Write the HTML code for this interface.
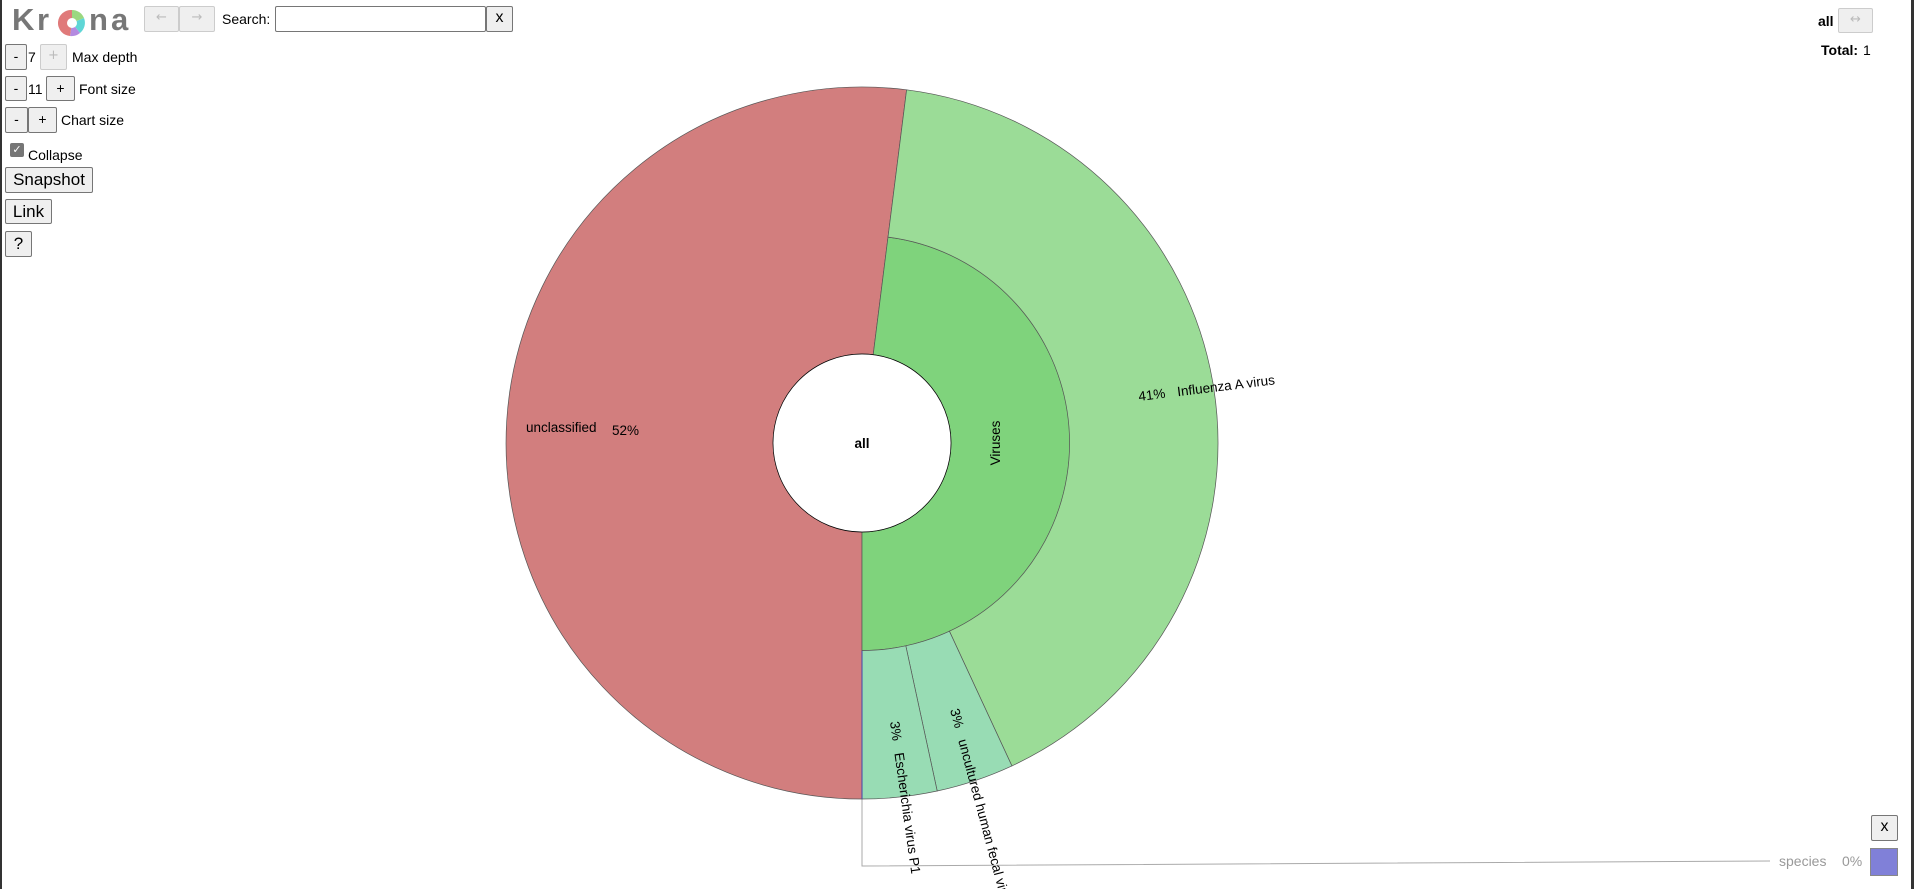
<!DOCTYPE html>
<html><head><meta charset="utf-8"><style>
body{margin:0;width:1914px;height:889px;overflow:hidden;background:#fff;font-family:"Liberation Sans",sans-serif;font-size:14px;color:#000;position:relative}
.a{position:absolute;white-space:nowrap}
.b{position:absolute;background:#efefef;border:1px solid #767676;border-radius:2px;box-sizing:border-box;text-align:center;font-size:14px;line-height:22px}
.d{color:#bbb;border-color:#ccc;font-family:"DejaVu Sans",sans-serif;font-size:13px}
.l{position:absolute;top:2px;font-size:31px;font-weight:bold;color:#777}
</style></head><body>
<div class="l" style="left:12px">K</div>
<div class="l" style="left:37px">r</div>
<div class="l" style="left:89px">n</div>
<div class="l" style="left:111px">a</div>
<svg class="a" style="left:58px;top:9px" width="28" height="28" viewBox="-14 -14 28 28">
<path d="M0 0 L0 -13 A13 13 0 0 1 12 -5Z" fill="#9bd880"/><path d="M0 0 L12 -5 A13 13 0 0 1 8 10Z" fill="#5fd6d6"/><path d="M0 0 L8 10 A13 13 0 0 1 -2 13Z" fill="#b48ae0"/><path d="M0 0 L-2 13 A13 13 0 0 1 0 -13Z" fill="#e07a7a"/><circle r="5" fill="#fff"/></svg>
<div class="b d" style="left:144px;top:6px;width:35px;height:26px">←</div>
<div class="b d" style="left:179px;top:6px;width:36px;height:26px">→</div>
<div class="a" style="left:222px;top:11px">Search:</div>
<div class="a" style="left:275px;top:6px;width:211px;height:26px;border:1px solid #767676;box-sizing:border-box;border-radius:2px"></div>
<div class="b" style="left:486px;top:6px;width:27px;height:26px;font-size:16px">x</div>
<div class="b" style="left:5px;top:44px;width:22px;height:26px">-</div><div class="a" style="left:28px;top:49px">7</div>
<div class="b d" style="left:40px;top:44px;width:27px;height:26px">+</div><div class="a" style="left:72px;top:49px">Max depth</div>
<div class="b" style="left:5px;top:76px;width:22px;height:25px">-</div><div class="a" style="left:28px;top:81px">11</div>
<div class="b" style="left:46px;top:76px;width:29px;height:25px">+</div><div class="a" style="left:79px;top:81px">Font size</div>
<div class="b" style="left:5px;top:107px;width:23px;height:26px">-</div>
<div class="b" style="left:28px;top:107px;width:29px;height:26px">+</div><div class="a" style="left:61px;top:112px">Chart size</div>
<div class="a" style="left:10px;top:143px;width:14px;height:14px;background:#767676;border-radius:2px;color:#fff;font-size:11px;line-height:14px;text-align:center">✓</div>
<div class="a" style="left:28px;top:147px">Collapse</div>
<div class="b" style="left:5px;top:167px;width:88px;height:26px;font-size:17px;line-height:24px">Snapshot</div>
<div class="b" style="left:5px;top:199px;width:47px;height:25px;font-size:17px;line-height:23px">Link</div>
<div class="b" style="left:5px;top:231px;width:27px;height:26px;font-size:17px;line-height:24px">?</div>
<div class="a" style="left:1818px;top:13px;font-weight:bold">all</div>
<div class="b d" style="left:1838px;top:8px;width:35px;height:25px">↔</div>
<div class="a" style="left:1821px;top:42px;font-weight:bold">Total:</div><div class="a" style="left:1863px;top:42px">1</div>
<div class="b" style="left:1871px;top:815px;width:27px;height:26px;font-size:16px">x</div>
<div class="a" style="left:1779px;top:853px;color:#999">species</div>
<div class="a" style="left:1842px;top:853px;color:#999">0%</div>
<div class="a" style="left:1870px;top:848px;width:28px;height:28px;background:#8080d8;border:1px solid #888;box-sizing:border-box"></div>
<svg class="a" style="left:0;top:0" width="1914" height="889">
<polyline points="862,799 862,866 1770,861" fill="none" stroke="#aaa" stroke-width="1"/>
<g stroke="#555" stroke-width="0.7">
<path d="M862,799 A356 356 0 1 1 906.6,89.8 L873.2,354.7 A89 89 0 1 0 862,532 Z" fill="#d27e7e"/>
<path d="M873.2,354.7 L888,237.1 A207.5 207.5 0 0 1 862,650.5 L862,532 A89 89 0 0 0 873.2,354.7 Z" fill="#7fd37c"/>
<path d="M888,237.1 L906.6,89.8 A356 356 0 0 1 1011.9,765.9 L949.4,631.2 A207.5 207.5 0 0 0 888,237.1 Z" fill="#9bdc97"/>
<path d="M949.4,631.2 L1011.9,765.9 A356 356 0 0 1 937.2,791 L905.8,645.8 A207.5 207.5 0 0 0 949.4,631.2 Z" fill="#98dcb4"/>
<path d="M905.8,645.8 L937.2,791 A356 356 0 0 1 862,799 L862,650.5 A207.5 207.5 0 0 0 905.8,645.8 Z" fill="#98dcb4"/>
<circle cx="862" cy="443" r="89" fill="#fff" stroke="#000"/>
</g>
<line x1="862" y1="651" x2="862" y2="799" stroke="#44a" stroke-width="1"/>
<g font-family="Liberation Sans, sans-serif" font-size="13.5">
<text x="862" y="448" text-anchor="middle" font-weight="bold">all</text>
<text x="526" y="432">unclassified</text><text x="612" y="435">52%</text>
<text transform="translate(1000,443) rotate(-90)" text-anchor="middle">Viruses</text>
<text transform="translate(1139,401) rotate(-7)">41%<tspan dx="12">Influenza A virus</tspan></text>
<text transform="translate(890,722) rotate(82)">3%<tspan dx="12">Escherichia virus P1</tspan></text>
<text transform="translate(950,710) rotate(75)">3%<tspan dx="12">uncultured human fecal virus</tspan></text>
</g>
</svg>
<div class="a" style="left:0;top:0;width:2px;height:889px;background:#333"></div>
<div class="a" style="right:0;top:0;width:3px;height:889px;background:#333"></div>
</body></html>
